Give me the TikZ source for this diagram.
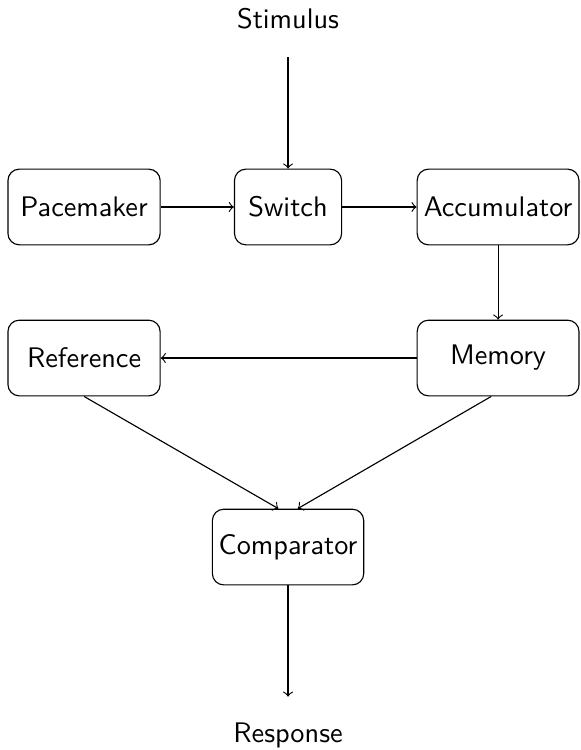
\documentclass[tikz,border=0pt]{standalone}
\usetikzlibrary{calc}
\tikzset{every node/.style={font=\sffamily},box/.style={draw,rounded corners,inner sep=2pt,minimum height=.94cm},term/.style={inner sep=2pt,minimum height=.94cm},flow/.style={->}}
\begin{document}
\begin{tikzpicture}
\useasboundingbox (-3.578,-6.745) rectangle (3.627,2.571);
\node[term] (stim) at (0,2.335){Stimulus};
\node[box,minimum width=1.89cm] (pace) at (-2.534,0){Pacemaker};\node[box,minimum width=1.33cm] (switch) at (0,0){Switch};\node[box,minimum width=2.01cm] (acc) at (2.609,0){Accumulator};
\node[box,minimum width=1.89cm] (ref) at (-2.534,-1.876){Reference};\node[box,minimum width=2.01cm] (mem) at (2.609,-1.876){Memory};
\node[box,minimum width=1.88cm] (comp) at (0,-4.224){Comparator};
\node[term] (resp) at (0,-6.56){Response};
\draw[flow] (stim)--(switch);\draw[flow] (pace)--(switch);\draw[flow] (switch)--(acc);
\draw[flow] (acc)--(mem);\draw[flow] (mem)--(ref);
\draw[flow] (ref.south)--([xshift=-.12cm]comp.north);\draw[flow] ([xshift=-.085cm]mem.south)--([xshift=.12cm]comp.north);
\draw[flow] (comp)--(resp);
\end{tikzpicture}
\end{document}
